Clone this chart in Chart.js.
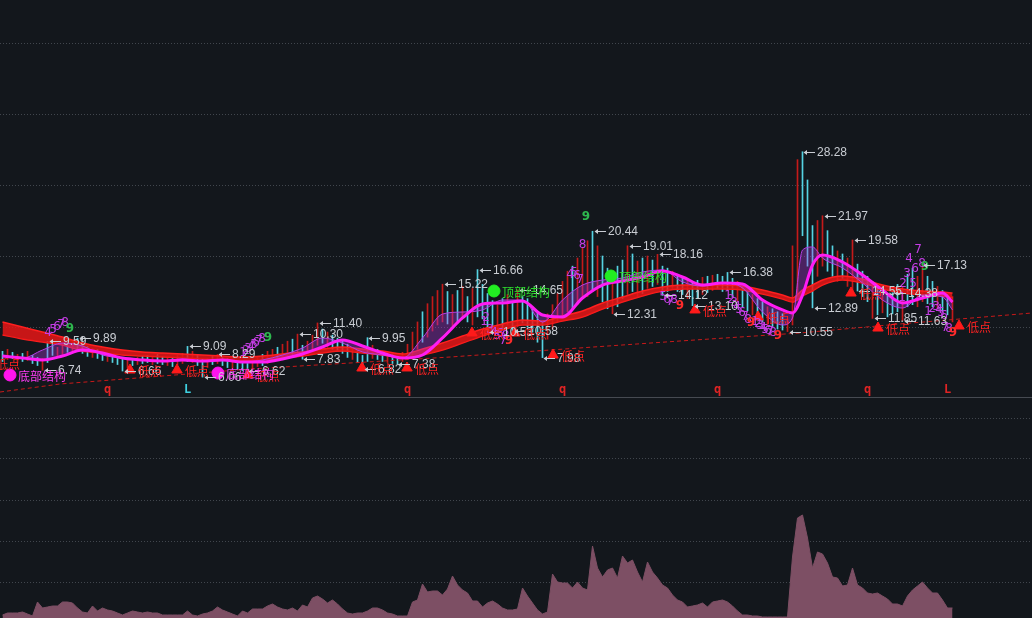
<!DOCTYPE html>
<html><head><meta charset="utf-8">
<script src="https://cdn.jsdelivr.net/npm/chart.js@4.4.1/dist/chart.umd.min.js"></script>
<style>
html,body{margin:0;padding:0;background:#13171c;width:1032px;height:618px;overflow:hidden}
#top{position:absolute;left:0;top:0;width:1032px;height:397px}
#sep{position:absolute;left:0;top:397px;width:1032px;height:1px;background:#464a51}
#bot{position:absolute;left:0;top:398px;width:1032px;height:220px}
</style></head><body>
<div id="top"><canvas id="c1" width="1032" height="397"></canvas></div>
<div id="sep"></div>
<div id="bot"><canvas id="c2" width="1032" height="220"></canvas></div>
<script>
// ---------- candles (price) ----------
const lows = [7.6,7.8,7.9,7.5,7.6,7.7,7.4,7.2,6.74,7.5, 8.2,8.0,8.3,8.5,8.6,8.7,8.4,8.1,8.0,7.9,
 7.7,7.6,7.5,7.3,6.66,7.0,7.2,7.3,7.4,7.5, 7.3,7.4,7.3,7.2,7.1,7.3,7.4,7.6,7.5,7.2,
 6.06,7.0,7.3,7.4,7.2,7.0,6.9,6.8,6.7,6.62, 6.9,7.1,7.2,7.4,7.6,7.7,7.9,8.0,8.2,8.3,
 7.83,8.4,8.8,9.2,9.4,9.0,8.8,8.7,8.4,8.0, 7.8,7.5,6.82,7.6,7.9,7.8,7.6,7.5,7.4,7.38,
 7.6,7.8,8.2,8.8,9.5,10.0,10.6,11.2,11.5,11.3, 11.0,11.4,11.8,11.5,11.2,12.0,11.8,10.53,10.9,10.8,
 10.8,11.2,10.58,11.0,11.4,11.0,10.5,9.5,7.98,9.8, 10.8,11.5,12.0,12.5,12.8,13.2,13.8,14.0,14.5,14.0,
 13.5,12.8,12.31,13.0,13.8,14.2,14.5,14.0,14.3,14.8, 15.0,15.2,14.12,14.5,14.8,14.5,14.2,13.8,13.10,13.8,
 14.2,14.4,14.6,14.8,14.5,14.6,14.0,13.5,13.0,12.6, 12.2,11.8,11.5,11.2,11.0,10.8,10.7,10.55,11.2,14.0,
 20.0,17.0,12.89,16.0,17.0,16.5,16.0,15.5,15.8,15.0, 14.5,14.55,14.0,13.5,11.85,12.2,12.4,12.0,12.3,12.5,
 11.63,13.0,13.2,13.0,13.5,13.3,13.0,12.8,12.6,12.2, 11.5];
const highs = [8.6,8.8,8.5,8.3,8.4,8.6,8.2,8.0,7.9,9.59, 9.3,9.0,9.4,9.2,9.6,9.89,9.5,9.1,8.9,8.8,
 8.5,8.4,8.2,8.0,7.8,7.8,7.9,8.0,8.1,8.2, 8.0,8.3,8.1,8.0,7.9,8.2,8.4,9.09,8.6,8.3,
 7.8,7.9,8.1,8.29,8.0,7.9,7.7,7.6,7.5,7.4, 7.8,8.0,8.3,8.6,8.8,9.0,9.3,9.6,9.8,10.30,
 9.2,9.6,10.2,11.40,10.8,10.5,10.2,9.9,9.6,9.3, 9.0,8.7,8.2,9.95,9.2,8.8,8.6,8.5,8.3,8.1,
 8.5,9.3,10.5,11.5,12.5,13.3,14.0,14.6,15.22,14.5, 14.2,14.6,15.0,14.0,14.8,16.66,15.2,14.3,13.6,13.2,
 13.8,14.2,13.5,14.65,14.0,13.8,13.0,12.5,11.5,12.3, 13.2,14.3,15.5,16.5,17.0,17.8,18.8,19.5,20.44,19.0,
 18.0,16.8,16.0,17.0,17.6,19.01,18.2,17.5,17.8,18.0, 17.6,18.16,17.0,16.8,16.5,16.2,16.0,15.8,15.5,15.6,
 15.9,16.0,16.1,16.2,16.0,16.38,15.8,15.5,15.0,14.5, 14.2,13.8,13.5,13.0,12.8,12.5,12.3,11.8,19.0,27.5,
 28.28,25.5,21.0,21.5,21.97,20.5,19.0,18.5,18.2,17.8, 19.58,17.2,16.5,16.0,15.5,15.0,14.5,14.2,14.38,15.2,
 15.0,16.2,16.8,16.0,17.13,16.0,15.5,15.0,14.6,14.2, 14.0];
const ups = [0,1,0,1,0,1,0,0,1,0, 0,1,1,0,1,0,0,0,1,0, 0,1,0,0,0,1,0,1,0,0, 1,0,0,1,0,1,1,0,1,0,
 0,1,0,1,0,0,1,0,0,0, 1,1,0,1,1,0,1,1,0,1, 0,1,1,1,0,1,0,0,0,0, 1,0,0,0,1,0,0,1,0,0,
 1,1,1,1,0,1,1,1,1,0, 1,0,1,0,1,0,0,0,0,1, 0,1,0,1,0,0,0,0,0,1, 1,1,1,1,0,1,1,1,0,1,
 0,0,1,0,0,1,0,1,0,1, 0,1,0,0,1,0,0,1,0,0, 1,0,1,0,0,0,0,1,0,0, 1,0,0,1,0,0,0,1,1,1,
 0,0,0,1,1,0,0,1,0,1, 1,0,0,0,1,0,1,0,0,0, 1,0,0,1,1,0,0,1,0,0, 1];
// ---------- volume ----------
const volume = [3,5,5,5,6,4,2,16,10,11, 12,12,16,16,15,10,6,5,12,7, 10,8,7,5,3,5,7,6,5,6,
 5,5,3,3,3,3,3,7,3,2, 4,5,7,11,8,6,4,2,7,5, 9,9,9,12,14,11,9,8,10,7,
 13,11,20,22,19,15,18,14,9,5, 4,5,5,7,10,10,8,5,4,2, 2,2,16,18,34,26,27,27,23,29,
 42,33,28,25,17,17,11,15,17,14, 10,8,8,9,30,22,15,8,4,6, 44,36,35,35,30,36,30,28,72,50,
 41,48,50,40,62,55,58,46,36,56, 46,40,33,30,23,18,16,11,12,13, 15,11,16,17,18,16,12,7,3,3,
 2,2,1,1,1,1,1,1,61,100, 103,80,50,66,64,55,41,40,32,33, 50,33,30,25,24,25,22,19,14,14,
 12,22,28,32,36,30,25,25,18,10, 10];
// ---------- moving-average ribbons (read at these bar indices) ----------
const maIdx = [0,4,8,12,16,20,24,28,32,36,40,44,48,52,56,60,64,68,72,76,80,84,88,92,96,100,104,108,112,116,
 120,124,128,132,136,140,144,148,152,156,158,160,162,164,168,172,176,180,184,188,190];
const magSlow = [8.14,7.94,7.75,8.14,8.73,8.44,7.94,7.75,7.65,7.75,7.65,7.75,7.55,7.55,7.85,8.34,9.03,9.72,9.13,8.44,
 7.94,8.24,9.92,11.89,13.27,13.37,13.56,12.18,11.99,13.86,15.14,15.54,15.93,16.52,15.93,15.14,15.34,15.24,13.66,12.68,
 12.38,14.15,17.11,18.10,17.41,16.13,14.65,13.37,13.86,14.35,13.46];
const magFast = [8.14,7.94,8.73,9.42,9.13,8.24,7.94,7.75,7.65,7.85,7.65,7.75,7.55,7.75,8.24,8.93,9.92,9.42,8.54,8.24,
 7.94,9.92,12.28,12.48,12.68,13.66,13.66,11.49,13.66,15.14,15.63,15.83,16.42,16.62,15.44,15.04,15.34,14.85,12.48,11.20,
 11.89,18.59,18.89,17.80,16.82,15.34,13.66,12.87,14.15,13.96,12.68];
const redTop = [11.49,11.0,10.51,10.01,9.42,9.03,8.73,8.54,8.44,8.34,8.24,8.14,8.04,8.14,8.34,8.54,8.83,9.03,8.83,8.63,
 8.34,8.83,9.42,10.11,10.80,11.30,11.69,11.59,12.08,12.58,13.37,13.96,14.55,14.94,15.14,15.14,15.14,15.04,14.65,14.15,
 13.86,14.65,15.14,15.63,16.03,15.73,15.14,14.75,14.55,14.45,14.35];
const redBot = [10.21,9.82,9.52,9.23,8.63,8.44,8.24,8.14,8.04,7.94,7.85,7.75,7.65,7.75,7.94,8.14,8.44,8.63,8.44,8.24,
 7.94,8.24,8.73,9.42,10.11,10.70,11.20,11.20,11.59,11.99,12.77,13.46,14.06,14.55,14.75,14.75,14.75,14.65,14.25,13.76,
 13.46,14.06,14.55,15.14,15.63,15.34,14.75,14.35,14.15,14.06,13.86];
// ---------- support trend line ----------
const trendIdx = [-0.5,11.5,29.5,49.5,69.5,89.5,109.5,135.5,159.5,179.5,205.9];
const trendVal = [4.59,5.38,6.07,6.86,7.45,8.04,8.73,9.62,10.41,11.30,12.38];
// ---------- annotations ----------
const peakIdx = [9,15,37,43,59,63,73,88,95,103,118,125,131,145,160,164,170,178,184];
const troughIdx = [8,24,40,49,60,72,79,97,102,108,122,132,138,157,162,171,174,180];
const lowPointIdx = [-2.9,25.5,34.9,49.1,71.9,80.9,93.9,102.5,110.1,138.5,151.1,169.7,175.1,191.3];
const lowPointVal = [7.45,6.76,6.76,6.27,6.96,6.96,10.41,10.41,8.24,12.68,11.99,14.35,10.9,11.1];
const bottomIdx = [1.5,43.1];
const bottomVal = [6.27,6.46];
const topIdx = [98.3,121.7];
const topVal = [14.55,16.03];
const countDigits = [
 [9.1,10.41,'4'],[10.1,10.70,'5'],[10.9,11.0,'6'],[11.7,11.2,'7'],[12.5,11.39,'8'],
 [48.1,8.44,'1'],[48.7,8.63,'2'],[49.1,8.83,'3'],[49.7,9.03,'4'],[50.3,9.23,'5'],[50.7,9.42,'6'],[51.3,9.62,'7'],[51.9,9.82,'8'],
 [113.5,16.13,'4'],[114.3,16.32,'5'],[114.9,16.0,'6'],[115.5,15.63,'7'],[116.0,19.08,'8'],
 [179.9,13.86,'1'],[180.1,15.24,'2'],[180.9,16.23,'3'],[181.3,17.7,'4'],[182.1,15.24,'5'],[182.5,16.72,'6'],[183.1,18.59,'7'],[183.9,17.21,'8'],
 [96.3,11.49,'1'],[96.7,11.89,'2'],[97.5,10.7,'3'],[98.3,10.41,'4'],[98.9,10.11,'5'],[99.5,10.31,'6'],[100.1,9.62,'7'],[100.6,10.11,'8'],
 [132.1,13.96,'5'],[132.9,13.66,'6'],[133.5,13.46,'7'],[134.3,13.66,'8'],
 [145.1,14.06,'1'],[145.7,13.66,'2'],[146.3,13.37,'3'],[146.9,12.97,'4'],[147.3,12.68,'5'],[147.9,12.38,'6'],[148.5,11.99,'7'],[149.1,11.69,'8'],
 [150.5,11.49,'1'],[151.1,11.3,'2'],[151.5,11.1,'3'],[152.1,10.9,'4'],[152.5,10.7,'5'],[153.1,10.61,'6'],[153.5,10.51,'7'],[154.1,10.41,'8'],
 [185.1,12.48,'1'],[185.9,12.77,'2'],[186.7,12.97,'3'],[187.3,12.68,'4'],[187.7,12.38,'5'],[188.3,12.08,'6'],[188.5,10.9,'7'],[189.3,10.8,'8']];
const green9 = [[13.5,10.8],[53.1,9.92],[116.7,21.85],[184.5,16.92]];
const red9 = [[101.3,9.62],[135.5,13.07],[149.7,11.39],[155.1,10.11],[190.1,10.41]];
const cycleIdx = [21,37,81,112,143,173,189];
const cycleText = ['q','L','q','q','q','q','L'];
const cycleCyan = [0,1,0,0,0,0,0];
const cycleLevel = 4.85;
const priceGrid = [11,18,25,32,39];
const volGrid = [36,77,118,159,200];

const X_MIN = -0.5, X_MAX = 205.9;
const RED = '#c41a1a', CYAN = '#55d3e3';
const bars = lows.map((l, i) => ({x: i, y: [l, highs[i]]}));
const pts = (ix, vals) => ix.map((x, k) => ({x, y: vals[k]}));

const annot = {
  id: 'annot',
  afterDatasetsDraw(chart) {
    const {ctx, scales: {x, y}} = chart;
    ctx.save();
    ctx.textBaseline = 'middle';
    ctx.textAlign = 'center';
    ctx.font = '12px "DejaVu Sans", sans-serif';
    ctx.fillStyle = '#c63ee6';
    countDigits.forEach(([i, v, t]) => ctx.fillText(t, x.getPixelForValue(i), y.getPixelForValue(v)));
    ctx.font = 'bold 12px "DejaVu Sans", sans-serif';
    ctx.fillStyle = '#2eb84e';
    green9.forEach(([i, v]) => ctx.fillText('9', x.getPixelForValue(i), y.getPixelForValue(v)));
    ctx.fillStyle = '#ff2b2b';
    red9.forEach(([i, v]) => ctx.fillText('9', x.getPixelForValue(i), y.getPixelForValue(v)));
    ctx.textAlign = 'left';
    ctx.font = '12px "Liberation Sans", Arial, sans-serif';
    ctx.strokeStyle = '#c9cdd3';
    ctx.fillStyle = '#c9cdd3';
    ctx.lineWidth = 1;
    const tag = (i, v) => {
      const px = Math.round(x.getPixelForValue(i)), py = Math.round(y.getPixelForValue(v)) + 0.5;
      ctx.beginPath(); ctx.moveTo(px + 2, py); ctx.lineTo(px + 13, py); ctx.stroke();
      ctx.beginPath(); ctx.moveTo(px + 1.5, py); ctx.lineTo(px + 5, py - 2.5); ctx.lineTo(px + 5, py + 2.5); ctx.closePath(); ctx.fill();
      ctx.fillText(v.toFixed(2), px + 15, py);
    };
    peakIdx.forEach(i => tag(i, highs[i]));
    troughIdx.forEach(i => tag(i, lows[i]));
    ctx.font = '12px "Noto Sans CJK SC", sans-serif';
    ctx.fillStyle = '#ff2222';
    lowPointIdx.forEach((i, k) => ctx.fillText('低点', x.getPixelForValue(i) + 8, y.getPixelForValue(lowPointVal[k]) + 1));
    ctx.fillStyle = '#ff3cf5';
    bottomIdx.forEach((i, k) => ctx.fillText('底部结构', x.getPixelForValue(i) + 8, y.getPixelForValue(bottomVal[k]) + 1));
    ctx.fillStyle = '#2ee02e';
    topIdx.forEach((i, k) => ctx.fillText('顶部结构', x.getPixelForValue(i) + 8, y.getPixelForValue(topVal[k]) + 1));
    ctx.textAlign = 'center';
    ctx.font = 'bold 12px "DejaVu Sans Mono", monospace';
    cycleIdx.forEach((i, k) => {
      ctx.fillStyle = cycleCyan[k] ? '#3fd0e0' : '#e02424';
      ctx.fillText(cycleText[k], x.getPixelForValue(i), y.getPixelForValue(cycleLevel));
    });
    ctx.restore();
  }
};

const lineBase = {type: 'line', pointRadius: 0, cubicInterpolationMode: 'monotone', tension: 0.4};

new Chart(document.getElementById('c1'), {
  type: 'bar',
  data: {datasets: [
    {type: 'bar', data: bars, backgroundColor: ups.map(u => u ? RED : CYAN), barThickness: 1, order: 20},
    {type: 'line', data: pts(trendIdx, trendVal), borderColor: '#c81a1a', borderDash: [4, 3], borderWidth: 1, pointRadius: 0, order: 19},
    {...lineBase, data: pts(maIdx, redTop), borderColor: '#ff1f1f', borderWidth: 1.5, fill: '+1', backgroundColor: 'rgba(232,22,22,0.85)', order: 8},
    {...lineBase, data: pts(maIdx, redBot), borderColor: '#ff1f1f', borderWidth: 1.5, order: 8},
    {...lineBase, data: pts(maIdx, magFast), borderColor: '#b53ee6', borderWidth: 1, fill: '+1', backgroundColor: 'rgba(180,55,225,0.35)', order: 5},
    {...lineBase, data: pts(maIdx, magSlow), borderColor: '#ff1cf4', borderWidth: 3, order: 4},
    {type: 'scatter', data: pts(lowPointIdx, lowPointVal), pointStyle: 'triangle', pointRadius: 6, backgroundColor: '#ff1a1a', borderColor: '#ff1a1a', order: 2},
    {type: 'scatter', data: pts(bottomIdx, bottomVal), pointStyle: 'circle', pointRadius: 6, backgroundColor: '#ff14ee', borderColor: '#ff14ee', order: 2},
    {type: 'scatter', data: pts(topIdx, topVal), pointStyle: 'circle', pointRadius: 6, backgroundColor: '#22ee22', borderColor: '#22ee22', order: 2}
  ]},
  options: {
    responsive: false, animation: false, devicePixelRatio: 1,
    layout: {padding: 0, autoPadding: false},
    plugins: {legend: {display: false}, tooltip: {enabled: false}},
    scales: {
      x: {type: 'linear', min: X_MIN, max: X_MAX, offset: false, display: false},
      y: {type: 'linear', min: 4.099, max: 43.24,
          afterBuildTicks: s => { s.ticks = priceGrid.map(v => ({value: v})); },
          ticks: {display: false}, border: {display: false, dash: [1, 2]},
          grid: {color: '#41464d', drawTicks: false, lineWidth: 1}}
    }
  },
  plugins: [annot]
});

new Chart(document.getElementById('c2'), {
  type: 'line',
  data: {datasets: [
    {data: volume.map((v, i) => ({x: i, y: v})), borderColor: '#7d4f64', backgroundColor: '#7d4f64', borderWidth: 1, fill: 'origin', pointRadius: 0, tension: 0}
  ]},
  options: {
    responsive: false, animation: false, devicePixelRatio: 1,
    layout: {padding: 0, autoPadding: false},
    plugins: {legend: {display: false}, tooltip: {enabled: false}},
    scales: {
      x: {type: 'linear', min: X_MIN, max: X_MAX, offset: false, display: false},
      y: {type: 'linear', min: 0, max: 220,
          afterBuildTicks: s => { s.ticks = volGrid.map(v => ({value: v})); },
          ticks: {display: false}, border: {display: false, dash: [1, 2]},
          grid: {color: '#41464d', drawTicks: false, lineWidth: 1}}
    }
  }
});
</script>
</body></html>
